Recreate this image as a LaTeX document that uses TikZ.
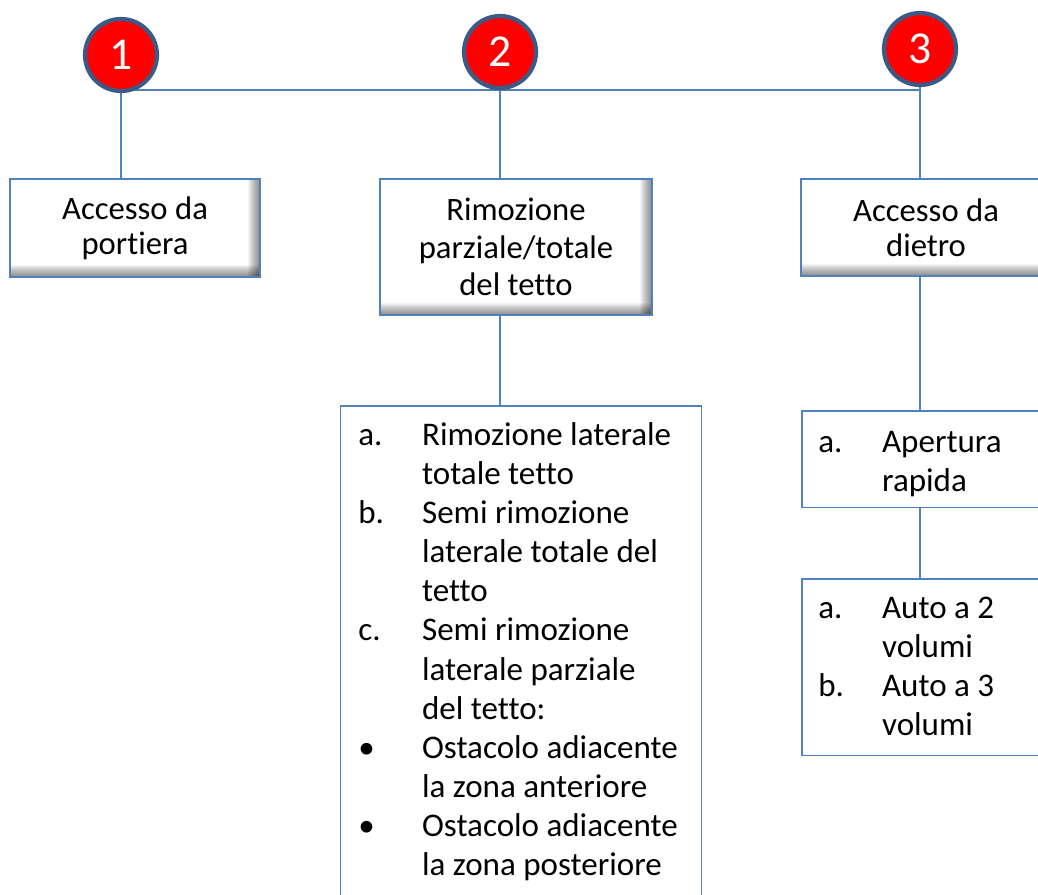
\documentclass[tikz,border=0pt]{standalone}
\usepackage{fontspec}
\setmainfont{Carlito}[Ligatures=NoCommon]
\usetikzlibrary{positioning}
\definecolor{lineblue}{HTML}{4F81BD}
\definecolor{ringblue}{HTML}{3B5B87}
\newcommand{\boxfont}{\fontsize{18.6}{19.9}\selectfont}
\newcommand{\wideboxfont}{\fontsize{18.6}{21.4}\selectfont}
\newcommand{\listfont}{\fontsize{18.8}{22.3}\selectfont}
\newcommand{\numfont}{\fontsize{26}{30}\selectfont}
\tikzset{
  link/.style={lineblue, line width=0.85pt},
  numdot/.style={circle, draw=ringblue, line width=2.4pt, fill=red, text=white,
    minimum size=1.44cm, inner sep=0pt, font=\numfont},
  topbox/.style={draw=lineblue, line width=0.85pt, fill=white, align=center,
    inner sep=0pt, font=\boxfont,
    path picture={
      \foreach \k in {1,...,12}{
        \fill[black, opacity=0.045]
          ([xshift=-\k*0.02cm]path picture bounding box.north east) rectangle (path picture bounding box.south east);
        \fill[black, opacity=0.045]
          ([yshift=\k*0.02cm]path picture bounding box.south west) rectangle (path picture bounding box.south east);
      }
    }},
  listframe/.style={draw=lineblue, line width=0.85pt, fill=white, anchor=north west, inner sep=0pt},
  listtext/.style={anchor=base west, inner sep=0pt, font=\listfont},
}
\begin{document}
\begin{tikzpicture}[x=0.02cm, y=-0.02cm]
\useasboundingbox (0,0) rectangle (1038,894);
\clip (0,0) rectangle (1038,894);
% top row
\coordinate (bar) at (0,90);
\node[topbox, minimum width=5cm, minimum height=1.96cm] (b1) at (135,228) {Accesso da\\portiera};
\node[topbox, minimum width=5.44cm, minimum height=2.72cm, font=\wideboxfont] (b2) at (516,247) {Rimozione\\parziale/totale\\del tetto};
\node[topbox, minimum width=5cm, minimum height=1.94cm] (b3) at (926,227.5) {Accesso da\\dietro};
% lists
\node[listframe, minimum width=7.22cm, minimum height=10cm] (l2) at (340,405) {};
\node[listframe, minimum width=5cm, minimum height=1.94cm] (l3a) at (801,410) {};
\node[listframe, minimum width=5cm, minimum height=3.54cm] (l3b) at (801,578) {};
\node[listtext] (t2) at ([xshift=0.36cm, yshift=-0.8cm]l2.north west) {%
\begin{tabular}[t]{@{}p{36.3pt}@{}l@{}}
a. & Rimozione laterale\\
   & totale tetto\\
b. & Semi rimozione\\
   & laterale totale del\\
   & tetto\\
c. & Semi rimozione\\
   & laterale parziale\\
   & del tetto:\\
\textbullet & Ostacolo adiacente\\
   & la zona anteriore\\
\textbullet & Ostacolo adiacente\\
   & la zona posteriore\\
\end{tabular}};
\node[listtext] (t3a) at ([xshift=0.34cm, yshift=-0.84cm]l3a.north west) {%
\begin{tabular}[t]{@{}p{36.3pt}@{}l@{}}
a. & Apertura\\
   & rapida\\
\end{tabular}};
\node[listtext] (t3b) at ([xshift=0.34cm, yshift=-0.8cm]l3b.north west) {%
\begin{tabular}[t]{@{}p{36.3pt}@{}l@{}}
a. & Auto a 2\\
   & volumi\\
b. & Auto a 3\\
   & volumi\\
\end{tabular}};
% numbered dots
\coordinate (d1) at (121,55);
\coordinate (d2) at (500,52);
\coordinate (d3) at (920,49);
\draw[link] (d1 |- bar) -- (d3 |- bar);
\draw[link] (d1) -- (d1 |- b1.north);
\draw[link] (d2) -- (d2 |- b2.north);
\draw[link] (d3) -- (d3 |- b3.north);
\draw[link] (d2 |- b2.south) -- (d2 |- l2.north);
\draw[link] (d3 |- b3.south) -- (d3 |- l3a.north);
\draw[link] (d3 |- l3a.south) -- (d3 |- l3b.north);
\node[numdot] (c1) at (d1) {1};
\node[numdot] (c2) at (d2) {2};
\node[numdot] (c3) at (d3) {3};
\end{tikzpicture}
\end{document}
